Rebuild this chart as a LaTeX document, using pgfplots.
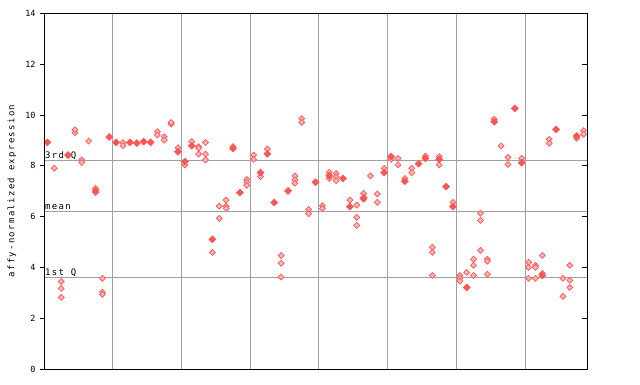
\documentclass[border=0pt]{standalone}
\usepackage{fontspec}
\setmainfont{DejaVu Sans Mono}
\newfontfamily\wide[LetterSpace=15]{DejaVu Sans Mono}
\usepackage{pgfplots}
\pgfplotsset{compat=1.18}
\definecolor{pred}{HTML}{FF5555}
\definecolor{plight}{HTML}{FFB4B4}
\definecolor{gridgray}{HTML}{A0A0A0}
\begin{document}
\begin{tikzpicture}[x=1bp,y=1bp]
\path[use as bounding box] (0,0) rectangle (640,384);
\begin{axis}[at={(44bp,15bp)}, anchor=south west, scale only axis,
  width=543bp, height=355.7bp, xmin=0, xmax=79, ymin=0, ymax=14,
  xtick={10,20,...,70}, xticklabels={}, xmajorgrids,
  xtick style={draw=none},
  major grid style={gridgray, line width=0.9bp},
  ytick={0,2,...,14}, ytick pos=left, tick align=outside,
  major tick length=4bp, ytick style={black, line width=0.8bp},
  axis line style={black, line width=0.9bp},
  /pgf/number format/assume math mode=true,
  yticklabel style={font=\fontsize{8.5}{10}\selectfont, xshift=-1bp},
  every axis y label/.style={at={(axis description cs:0,0.5)}, xshift=-32bp, rotate=90, anchor=center},
  ylabel={\fontsize{9}{10}\wide affy-normalized expression},
  clip=false]
\addplot[gridgray, line width=0.9bp, no marks] coordinates {(0,8.21) (79,8.21)};
\addplot[gridgray, line width=0.9bp, no marks] coordinates {(0,6.20) (79,6.20)};
\addplot[gridgray, line width=0.9bp, no marks] coordinates {(0,3.61) (79,3.61)};
\node[anchor=base west, inner sep=0, font=\fontsize{9}{10}\wide] at (axis cs:0,8.21) [xshift=1bp, yshift=2bp] {3rd Q};
\node[anchor=base west, inner sep=0, font=\fontsize{9}{10}\wide] at (axis cs:0,6.20) [xshift=1bp, yshift=1.7bp] {mean};
\node[anchor=base west, inner sep=0, font=\fontsize{9}{10}\wide] at (axis cs:0,3.61) [xshift=1bp, yshift=2bp] {1st Q};
% hollow replicates
\addplot[only marks, mark=square*, mark size=2.1bp, mark options={rotate=45, draw=pred, fill=plight, line width=0.7bp}] table {
x y
1.5 7.90
2.5 3.44
2.5 3.17
2.5 2.82
4.5 9.30
4.5 9.42
5.5 8.23
5.5 8.13
6.5 8.97
7.5 7.11
7.5 6.94
8.5 3.57
8.5 3.02
8.5 2.94
11.5 8.91
11.5 8.79
16.5 9.34
16.5 9.21
17.5 9.14
17.5 9.01
18.5 9.64
18.5 9.70
19.5 8.71
20.5 8.03
21.5 8.95
22.5 8.75
22.5 8.70
22.5 8.46
23.5 8.92
23.5 8.46
23.5 8.23
24.5 4.59
25.5 6.41
25.5 5.93
26.5 6.65
26.5 6.41
26.5 6.32
27.5 8.75
29.5 7.46
29.5 7.35
29.5 7.23
30.5 8.42
30.5 8.25
31.5 7.57
32.5 8.66
34.5 4.47
34.5 4.16
34.5 3.62
36.5 7.60
36.5 7.44
36.5 7.31
37.5 9.86
37.5 9.71
38.5 6.28
38.5 6.11
40.5 6.43
40.5 6.32
41.5 7.74
41.5 7.50
42.5 7.70
42.5 7.57
42.5 7.42
44.5 6.65
45.5 6.45
45.5 5.97
45.5 5.65
46.5 6.91
46.5 6.68
47.5 7.60
48.5 6.89
48.5 6.56
49.5 7.90
50.5 8.25
51.5 8.29
51.5 8.03
52.5 7.50
53.5 7.90
53.5 7.73
55.5 8.38
56.5 4.79
56.5 4.59
56.5 3.68
57.5 8.36
57.5 8.03
59.5 6.56
60.5 3.68
60.5 3.57
60.5 3.46
61.5 3.80
62.5 4.32
62.5 4.08
62.5 3.68
63.5 6.13
63.5 5.85
63.5 4.67
64.5 4.32
64.5 4.24
64.5 3.73
65.5 9.83
66.5 8.78
67.5 8.33
67.5 8.05
69.5 8.29
70.5 4.20
70.5 4.00
70.5 3.57
71.5 4.08
71.5 4.00
71.5 3.57
72.5 4.47
72.5 3.76
73.5 9.04
73.5 8.88
75.5 3.57
75.5 2.86
76.5 4.08
76.5 3.49
76.5 3.21
77.5 9.08
78.5 9.38
78.5 9.24
};
% filled points
\addplot[only marks, mark=square*, mark size=2.5bp, mark options={rotate=45, draw=pred, fill=pred, line width=0.5bp}] table {
x y
0.5 8.92
3.5 8.42
7.5 7.02
9.5 9.13
10.5 8.92
12.5 8.92
13.5 8.89
14.5 8.95
15.5 8.92
19.5 8.55
20.5 8.16
21.5 8.79
24.5 5.10
27.5 8.68
28.5 6.94
31.5 7.73
32.5 8.47
33.5 6.55
35.5 7.01
39.5 7.35
41.5 7.61
43.5 7.50
44.5 6.39
46.5 6.74
49.5 7.73
50.5 8.36
52.5 7.39
54.5 8.08
55.5 8.29
57.5 8.25
58.5 7.18
59.5 6.39
61.5 3.21
65.5 9.73
68.5 10.26
69.5 8.12
72.5 3.68
74.5 9.43
77.5 9.17
};
\end{axis}
\begin{axis}[at={(44bp,15bp)}, anchor=south west, scale only axis,
  width=543bp, height=355.7bp, xmin=0, xmax=79, ymin=0, ymax=14,
  xtick=\empty, ytick={0,2,...,14}, ytick pos=right, tick align=inside,
  yticklabels={}, major tick length=5bp, ytick style={black, line width=0.8bp},
  axis line style={black, line width=0.9bp}]
\end{axis}
\end{tikzpicture}
\end{document}
